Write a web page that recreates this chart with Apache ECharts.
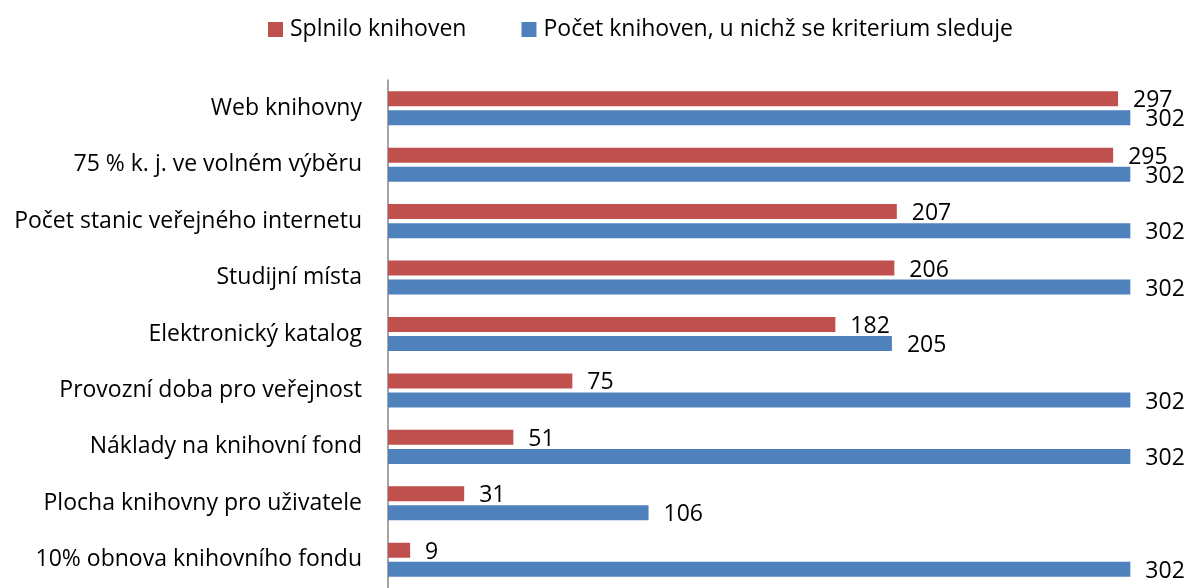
<!DOCTYPE html>
<html><head><meta charset="utf-8">
<script src="https://cdn.jsdelivr.net/npm/echarts@6/dist/echarts.min.js"></script>
<style>html,body{margin:0;padding:0;background:#fff}#c{width:1190px;height:588px}</style>
</head><body><div id="c"></div>
<script>
const categories = ["Web knihovny","75 % k. j. ve volném výběru","Počet stanic veřejného internetu","Studijní místa","Elektronický katalog","Provozní doba pro veřejnost","Náklady na knihovní fond","Plocha knihovny pro uživatele","10% obnova knihovního fondu"];
const splnilo = [297,295,207,206,182,75,51,31,9];
const pocet = [302,302,302,302,205,302,302,106,302];
const seriesNames = ["Splnilo knihoven","Počet knihoven, u nichž se kriterium sleduje"];
const FONT = '"Open Sans", sans-serif';
const chart = echarts.init(document.getElementById('c'), null, {renderer:'canvas'});
const lbl = {show:true, position:'right', distance:15, color:'#000', fontSize:23, fontFamily:FONT, offset:[0,2]};
chart.setOption({
  animation:false,
  legend:{data:seriesNames, left:263, top:13, icon:'rect', itemWidth:15, itemHeight:15, itemGap:55,
    textStyle:{fontSize:23, fontFamily:FONT, color:'#000', padding:[0,0,0,2]}},
  grid:{left:388, right:40, top:80, bottom:-6, containLabel:false},
  xAxis:{type:'value', min:0, max:310, show:false},
  yAxis:{type:'category', data:categories, inverse:true,
    axisLine:{show:true, lineStyle:{color:'#868686', width:1.5}},
    axisTick:{show:false}, splitLine:{show:false},
    axisLabel:{fontSize:23, fontFamily:FONT, color:'#000', margin:26}},
  series:[
    {name:seriesNames[0], type:'bar', data:splnilo, barWidth:15, barGap:'27%', itemStyle:{color:'#C0504D'}, label:lbl},
    {name:seriesNames[1], type:'bar', data:pocet, barWidth:15, barGap:'27%', itemStyle:{color:'#4F81BD'}, label:lbl}
  ]
});
</script></body></html>
